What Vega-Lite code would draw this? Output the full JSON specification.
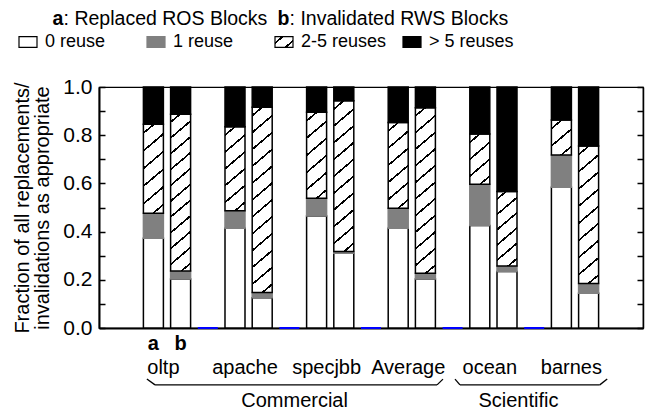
{
  "$schema": "https://vega.github.io/schema/vega-lite/v6.json",
  "width": 544,
  "height": 241,
  "autosize": {"type": "none"},
  "padding": {"left": 99, "top": 87, "right": 4, "bottom": 83},
  "config": {
    "font": "Liberation Sans",
    "view": {"stroke": "#000", "strokeWidth": 1.2},
    "axis": {"labelColor": "#000", "titleColor": "#000", "domainColor": "#000", "tickColor": "#000"},
    "text": {"color": "#000"}
  },
  "data": {"values": [
    {"bench": "oltp", "series": "a", "reuse": "0 reuse", "value": 0.372},
    {"bench": "oltp", "series": "a", "reuse": "1 reuse", "value": 0.104},
    {"bench": "oltp", "series": "a", "reuse": "2-5 reuses", "value": 0.369},
    {"bench": "oltp", "series": "a", "reuse": "> 5 reuses", "value": 0.155},
    {"bench": "oltp", "series": "b", "reuse": "0 reuse", "value": 0.203},
    {"bench": "oltp", "series": "b", "reuse": "1 reuse", "value": 0.033},
    {"bench": "oltp", "series": "b", "reuse": "2-5 reuses", "value": 0.651},
    {"bench": "oltp", "series": "b", "reuse": "> 5 reuses", "value": 0.113},
    {"bench": "apache", "series": "a", "reuse": "0 reuse", "value": 0.414},
    {"bench": "apache", "series": "a", "reuse": "1 reuse", "value": 0.073},
    {"bench": "apache", "series": "a", "reuse": "2-5 reuses", "value": 0.348},
    {"bench": "apache", "series": "a", "reuse": "> 5 reuses", "value": 0.165},
    {"bench": "apache", "series": "b", "reuse": "0 reuse", "value": 0.126},
    {"bench": "apache", "series": "b", "reuse": "1 reuse", "value": 0.021},
    {"bench": "apache", "series": "b", "reuse": "2-5 reuses", "value": 0.769},
    {"bench": "apache", "series": "b", "reuse": "> 5 reuses", "value": 0.084},
    {"bench": "specjbb", "series": "a", "reuse": "0 reuse", "value": 0.465},
    {"bench": "specjbb", "series": "a", "reuse": "1 reuse", "value": 0.073},
    {"bench": "specjbb", "series": "a", "reuse": "2-5 reuses", "value": 0.357},
    {"bench": "specjbb", "series": "a", "reuse": "> 5 reuses", "value": 0.105},
    {"bench": "specjbb", "series": "b", "reuse": "0 reuse", "value": 0.310},
    {"bench": "specjbb", "series": "b", "reuse": "1 reuse", "value": 0.007},
    {"bench": "specjbb", "series": "b", "reuse": "2-5 reuses", "value": 0.626},
    {"bench": "specjbb", "series": "b", "reuse": "> 5 reuses", "value": 0.057},
    {"bench": "Average", "series": "a", "reuse": "0 reuse", "value": 0.414},
    {"bench": "Average", "series": "a", "reuse": "1 reuse", "value": 0.083},
    {"bench": "Average", "series": "a", "reuse": "2-5 reuses", "value": 0.356},
    {"bench": "Average", "series": "a", "reuse": "> 5 reuses", "value": 0.147},
    {"bench": "Average", "series": "b", "reuse": "0 reuse", "value": 0.203},
    {"bench": "Average", "series": "b", "reuse": "1 reuse", "value": 0.024},
    {"bench": "Average", "series": "b", "reuse": "2-5 reuses", "value": 0.687},
    {"bench": "Average", "series": "b", "reuse": "> 5 reuses", "value": 0.086},
    {"bench": "ocean", "series": "a", "reuse": "0 reuse", "value": 0.425},
    {"bench": "ocean", "series": "a", "reuse": "1 reuse", "value": 0.171},
    {"bench": "ocean", "series": "a", "reuse": "2-5 reuses", "value": 0.209},
    {"bench": "ocean", "series": "a", "reuse": "> 5 reuses", "value": 0.195},
    {"bench": "ocean", "series": "b", "reuse": "0 reuse", "value": 0.234},
    {"bench": "ocean", "series": "b", "reuse": "1 reuse", "value": 0.023},
    {"bench": "ocean", "series": "b", "reuse": "2-5 reuses", "value": 0.309},
    {"bench": "ocean", "series": "b", "reuse": "> 5 reuses", "value": 0.434},
    {"bench": "barnes", "series": "a", "reuse": "0 reuse", "value": 0.584},
    {"bench": "barnes", "series": "a", "reuse": "1 reuse", "value": 0.134},
    {"bench": "barnes", "series": "a", "reuse": "2-5 reuses", "value": 0.145},
    {"bench": "barnes", "series": "a", "reuse": "> 5 reuses", "value": 0.137},
    {"bench": "barnes", "series": "b", "reuse": "0 reuse", "value": 0.144},
    {"bench": "barnes", "series": "b", "reuse": "1 reuse", "value": 0.041},
    {"bench": "barnes", "series": "b", "reuse": "2-5 reuses", "value": 0.570},
    {"bench": "barnes", "series": "b", "reuse": "> 5 reuses", "value": 0.245}
  ]},
  "layer": [
    {
      "mark": {"type": "bar", "strokeWidth": 1.5},
      "encoding": {
        "x": {"field": "bench", "type": "nominal", "sort": null,
          "scale": {"domain": ["oltp", "apache", "specjbb", "Average", "ocean", "barnes"], "paddingInner": 0, "paddingOuter": 0.3333, "align": 0.25},
          "axis": {"title": null, "labelAngle": 0, "ticks": false, "domainWidth": 2, "labelFontSize": 20, "labelPadding": 29, "labelOffset": 10, "labelOverlap": false, "zindex": 0}},
        "xOffset": {"field": "series", "type": "nominal", "scale": {"domain": ["g", "a", "b"], "paddingInner": 0.265, "paddingOuter": 0.1325}},
        "y": {"field": "value", "type": "quantitative", "stack": "zero",
          "scale": {"domain": [0, 1], "nice": false},
          "axis": {"title": ["Fraction of all replacements/", "invalidations as appropriate"], "titleFontSize": 20, "titleFontWeight": "normal", "titleLineHeight": 20, "titlePadding": 10,
            "values": [0, 0.1, 0.2, 0.3, 0.4, 0.5, 0.6, 0.7, 0.8, 0.9, 1],
            "labelExpr": "round(datum.value*10)%2===0 ? format(datum.value,'.1f') : ''",
            "tickSize": -6, "tickWidth": 1.5, "domainWidth": 2, "labelFontSize": 21, "labelPadding": 13, "grid": false, "zindex": 0}},
        "order": {"field": "reuse", "type": "nominal", "sort": "ascending"},
        "stroke": {"field": "reuse", "type": "nominal", "legend": null,
          "scale": {"domain": ["0 reuse", "1 reuse", "2-5 reuses", "> 5 reuses"], "range": ["#000000", "#808080", "#000000", "#000000"]}},
        "fill": {"field": "reuse", "type": "nominal",
          "scale": {"domain": ["0 reuse", "1 reuse", "2-5 reuses", "> 5 reuses"], "range": ["#ffffff", "#808080",
            {"expr": "{gradient: 'linear', x1: 0, y1: 0, x2: 1.13856, y2: 0.80369, stops: [{offset: 0, color: '#fff'}, {offset: 0.208, color: '#fff'}, {offset: 0.208, color: '#000'}, {offset: 0.292, color: '#000'}, {offset: 0.292, color: '#fff'}, {offset: 0.708, color: '#fff'}, {offset: 0.708, color: '#000'}, {offset: 0.792, color: '#000'}, {offset: 0.792, color: '#fff'}, {offset: 1, color: '#fff'}]}"},
            "#000000"]},
          "legend": {"title": null, "orient": "none", "legendX": -81, "legendY": -55, "direction": "horizontal",
            "symbolType": "M-1,-0.6H1V0.6H-1Z", "symbolSize": 324, "symbolStrokeWidth": 1.2, "symbolStrokeColor": "#000",
            "labelFontSize": 18, "labelOffset": 7, "columnPadding": 13, "gridAlign": "all"},
          "condition": [
            {"test": "datum.reuse==='2-5 reuses'&&datum.bench==='oltp'&&datum.series==='a'", "value": {"gradient": "linear", "x1": 0, "y1": 0, "x2": 0.21968, "y2": 1.14918, "stops": [
              {"offset": 0, "color": "#fff"},
              {"offset": 0.0729, "color": "#fff"}, {"offset": 0.0729, "color": "#000"}, {"offset": 0.0937, "color": "#000"}, {"offset": 0.0937, "color": "#fff"},
              {"offset": 0.2396, "color": "#fff"}, {"offset": 0.2396, "color": "#000"}, {"offset": 0.2604, "color": "#000"}, {"offset": 0.2604, "color": "#fff"},
              {"offset": 0.4063, "color": "#fff"}, {"offset": 0.4063, "color": "#000"}, {"offset": 0.4271, "color": "#000"}, {"offset": 0.4271, "color": "#fff"},
              {"offset": 0.5729, "color": "#fff"}, {"offset": 0.5729, "color": "#000"}, {"offset": 0.5937, "color": "#000"}, {"offset": 0.5937, "color": "#fff"},
              {"offset": 0.7396, "color": "#fff"}, {"offset": 0.7396, "color": "#000"}, {"offset": 0.7604, "color": "#000"}, {"offset": 0.7604, "color": "#fff"},
              {"offset": 0.9063, "color": "#fff"}, {"offset": 0.9063, "color": "#000"}, {"offset": 0.9271, "color": "#000"}, {"offset": 0.9271, "color": "#fff"},
              {"offset": 1, "color": "#fff"}]}},
            {"test": "datum.reuse==='2-5 reuses'&&datum.bench==='oltp'&&datum.series==='b'", "value": {"gradient": "linear", "x1": 0, "y1": 0, "x2": 0.1187, "y2": 1.0955, "stops": [
              {"offset": 0, "color": "#fff"},
              {"offset": 0.0392, "color": "#fff"}, {"offset": 0.0392, "color": "#000"}, {"offset": 0.0518, "color": "#000"}, {"offset": 0.0518, "color": "#fff"},
              {"offset": 0.1301, "color": "#fff"}, {"offset": 0.1301, "color": "#000"}, {"offset": 0.1427, "color": "#000"}, {"offset": 0.1427, "color": "#fff"},
              {"offset": 0.221, "color": "#fff"}, {"offset": 0.221, "color": "#000"}, {"offset": 0.2336, "color": "#000"}, {"offset": 0.2336, "color": "#fff"},
              {"offset": 0.3119, "color": "#fff"}, {"offset": 0.3119, "color": "#000"}, {"offset": 0.3245, "color": "#000"}, {"offset": 0.3245, "color": "#fff"},
              {"offset": 0.4028, "color": "#fff"}, {"offset": 0.4028, "color": "#000"}, {"offset": 0.4154, "color": "#000"}, {"offset": 0.4154, "color": "#fff"},
              {"offset": 0.4937, "color": "#fff"}, {"offset": 0.4937, "color": "#000"}, {"offset": 0.5063, "color": "#000"}, {"offset": 0.5063, "color": "#fff"},
              {"offset": 0.5846, "color": "#fff"}, {"offset": 0.5846, "color": "#000"}, {"offset": 0.5972, "color": "#000"}, {"offset": 0.5972, "color": "#fff"},
              {"offset": 0.6755, "color": "#fff"}, {"offset": 0.6755, "color": "#000"}, {"offset": 0.6881, "color": "#000"}, {"offset": 0.6881, "color": "#fff"},
              {"offset": 0.7664, "color": "#fff"}, {"offset": 0.7664, "color": "#000"}, {"offset": 0.779, "color": "#000"}, {"offset": 0.779, "color": "#fff"},
              {"offset": 0.8573, "color": "#fff"}, {"offset": 0.8573, "color": "#000"}, {"offset": 0.8699, "color": "#000"}, {"offset": 0.8699, "color": "#fff"},
              {"offset": 0.9482, "color": "#fff"}, {"offset": 0.9482, "color": "#000"}, {"offset": 0.9608, "color": "#000"}, {"offset": 0.9608, "color": "#fff"},
              {"offset": 1, "color": "#fff"}]}},
            {"test": "datum.reuse==='2-5 reuses'&&datum.bench==='apache'&&datum.series==='a'", "value": {"gradient": "linear", "x1": 0, "y1": 0, "x2": 0.23416, "y2": 1.15523, "stops": [
              {"offset": 0, "color": "#fff"},
              {"offset": 0.0724, "color": "#fff"}, {"offset": 0.0724, "color": "#000"}, {"offset": 0.0942, "color": "#000"}, {"offset": 0.0942, "color": "#fff"},
              {"offset": 0.2391, "color": "#fff"}, {"offset": 0.2391, "color": "#000"}, {"offset": 0.2609, "color": "#000"}, {"offset": 0.2609, "color": "#fff"},
              {"offset": 0.4058, "color": "#fff"}, {"offset": 0.4058, "color": "#000"}, {"offset": 0.4276, "color": "#000"}, {"offset": 0.4276, "color": "#fff"},
              {"offset": 0.5724, "color": "#fff"}, {"offset": 0.5724, "color": "#000"}, {"offset": 0.5942, "color": "#000"}, {"offset": 0.5942, "color": "#fff"},
              {"offset": 0.7391, "color": "#fff"}, {"offset": 0.7391, "color": "#000"}, {"offset": 0.7609, "color": "#000"}, {"offset": 0.7609, "color": "#fff"},
              {"offset": 0.9058, "color": "#fff"}, {"offset": 0.9058, "color": "#000"}, {"offset": 0.9276, "color": "#000"}, {"offset": 0.9276, "color": "#fff"},
              {"offset": 1, "color": "#fff"}]}},
            {"test": "datum.reuse==='2-5 reuses'&&datum.bench==='apache'&&datum.series==='b'", "value": {"gradient": "linear", "x1": 0, "y1": 0, "x2": 0.09931, "y2": 1.08263, "stops": [
              {"offset": 0, "color": "#fff"},
              {"offset": 0.0363, "color": "#fff"}, {"offset": 0.0363, "color": "#000"}, {"offset": 0.0471, "color": "#000"}, {"offset": 0.0471, "color": "#fff"},
              {"offset": 0.1196, "color": "#fff"}, {"offset": 0.1196, "color": "#000"}, {"offset": 0.1304, "color": "#000"}, {"offset": 0.1304, "color": "#fff"},
              {"offset": 0.2029, "color": "#fff"}, {"offset": 0.2029, "color": "#000"}, {"offset": 0.2137, "color": "#000"}, {"offset": 0.2137, "color": "#fff"},
              {"offset": 0.2863, "color": "#fff"}, {"offset": 0.2863, "color": "#000"}, {"offset": 0.2971, "color": "#000"}, {"offset": 0.2971, "color": "#fff"},
              {"offset": 0.3696, "color": "#fff"}, {"offset": 0.3696, "color": "#000"}, {"offset": 0.3804, "color": "#000"}, {"offset": 0.3804, "color": "#fff"},
              {"offset": 0.4529, "color": "#fff"}, {"offset": 0.4529, "color": "#000"}, {"offset": 0.4637, "color": "#000"}, {"offset": 0.4637, "color": "#fff"},
              {"offset": 0.5363, "color": "#fff"}, {"offset": 0.5363, "color": "#000"}, {"offset": 0.5471, "color": "#000"}, {"offset": 0.5471, "color": "#fff"},
              {"offset": 0.6196, "color": "#fff"}, {"offset": 0.6196, "color": "#000"}, {"offset": 0.6304, "color": "#000"}, {"offset": 0.6304, "color": "#fff"},
              {"offset": 0.7029, "color": "#fff"}, {"offset": 0.7029, "color": "#000"}, {"offset": 0.7137, "color": "#000"}, {"offset": 0.7137, "color": "#fff"},
              {"offset": 0.7863, "color": "#fff"}, {"offset": 0.7863, "color": "#000"}, {"offset": 0.7971, "color": "#000"}, {"offset": 0.7971, "color": "#fff"},
              {"offset": 0.8696, "color": "#fff"}, {"offset": 0.8696, "color": "#000"}, {"offset": 0.8804, "color": "#000"}, {"offset": 0.8804, "color": "#fff"},
              {"offset": 0.9529, "color": "#fff"}, {"offset": 0.9529, "color": "#000"}, {"offset": 0.9637, "color": "#000"}, {"offset": 0.9637, "color": "#fff"},
              {"offset": 1, "color": "#fff"}]}},
            {"test": "datum.reuse==='2-5 reuses'&&datum.bench==='specjbb'&&datum.series==='a'", "value": {"gradient": "linear", "x1": 0, "y1": 0, "x2": 0.22773, "y2": 1.15259, "stops": [
              {"offset": 0, "color": "#fff"},
              {"offset": 0.0726, "color": "#fff"}, {"offset": 0.0726, "color": "#000"}, {"offset": 0.094, "color": "#000"}, {"offset": 0.094, "color": "#fff"},
              {"offset": 0.2393, "color": "#fff"}, {"offset": 0.2393, "color": "#000"}, {"offset": 0.2607, "color": "#000"}, {"offset": 0.2607, "color": "#fff"},
              {"offset": 0.406, "color": "#fff"}, {"offset": 0.406, "color": "#000"}, {"offset": 0.4274, "color": "#000"}, {"offset": 0.4274, "color": "#fff"},
              {"offset": 0.5726, "color": "#fff"}, {"offset": 0.5726, "color": "#000"}, {"offset": 0.594, "color": "#000"}, {"offset": 0.594, "color": "#fff"},
              {"offset": 0.7393, "color": "#fff"}, {"offset": 0.7393, "color": "#000"}, {"offset": 0.7607, "color": "#000"}, {"offset": 0.7607, "color": "#fff"},
              {"offset": 0.906, "color": "#fff"}, {"offset": 0.906, "color": "#000"}, {"offset": 0.9274, "color": "#000"}, {"offset": 0.9274, "color": "#fff"},
              {"offset": 1, "color": "#fff"}]}},
            {"test": "datum.reuse==='2-5 reuses'&&datum.bench==='specjbb'&&datum.series==='b'", "value": {"gradient": "linear", "x1": 0, "y1": 0, "x2": 0.1238, "y2": 1.09873, "stops": [
              {"offset": 0, "color": "#fff"},
              {"offset": 0.0434, "color": "#fff"}, {"offset": 0.0434, "color": "#000"}, {"offset": 0.0566, "color": "#000"}, {"offset": 0.0566, "color": "#fff"},
              {"offset": 0.1434, "color": "#fff"}, {"offset": 0.1434, "color": "#000"}, {"offset": 0.1566, "color": "#000"}, {"offset": 0.1566, "color": "#fff"},
              {"offset": 0.2434, "color": "#fff"}, {"offset": 0.2434, "color": "#000"}, {"offset": 0.2566, "color": "#000"}, {"offset": 0.2566, "color": "#fff"},
              {"offset": 0.3434, "color": "#fff"}, {"offset": 0.3434, "color": "#000"}, {"offset": 0.3566, "color": "#000"}, {"offset": 0.3566, "color": "#fff"},
              {"offset": 0.4434, "color": "#fff"}, {"offset": 0.4434, "color": "#000"}, {"offset": 0.4566, "color": "#000"}, {"offset": 0.4566, "color": "#fff"},
              {"offset": 0.5434, "color": "#fff"}, {"offset": 0.5434, "color": "#000"}, {"offset": 0.5566, "color": "#000"}, {"offset": 0.5566, "color": "#fff"},
              {"offset": 0.6434, "color": "#fff"}, {"offset": 0.6434, "color": "#000"}, {"offset": 0.6566, "color": "#000"}, {"offset": 0.6566, "color": "#fff"},
              {"offset": 0.7434, "color": "#fff"}, {"offset": 0.7434, "color": "#000"}, {"offset": 0.7566, "color": "#000"}, {"offset": 0.7566, "color": "#fff"},
              {"offset": 0.8434, "color": "#fff"}, {"offset": 0.8434, "color": "#000"}, {"offset": 0.8566, "color": "#000"}, {"offset": 0.8566, "color": "#fff"},
              {"offset": 0.9434, "color": "#fff"}, {"offset": 0.9434, "color": "#000"}, {"offset": 0.9566, "color": "#000"}, {"offset": 0.9566, "color": "#fff"},
              {"offset": 1, "color": "#fff"}]}},
            {"test": "datum.reuse==='2-5 reuses'&&datum.bench==='Average'&&datum.series==='a'", "value": {"gradient": "linear", "x1": 0, "y1": 0, "x2": 0.22842, "y2": 1.15287, "stops": [
              {"offset": 0, "color": "#fff"},
              {"offset": 0.0726, "color": "#fff"}, {"offset": 0.0726, "color": "#000"}, {"offset": 0.094, "color": "#000"}, {"offset": 0.094, "color": "#fff"},
              {"offset": 0.2393, "color": "#fff"}, {"offset": 0.2393, "color": "#000"}, {"offset": 0.2607, "color": "#000"}, {"offset": 0.2607, "color": "#fff"},
              {"offset": 0.406, "color": "#fff"}, {"offset": 0.406, "color": "#000"}, {"offset": 0.4274, "color": "#000"}, {"offset": 0.4274, "color": "#fff"},
              {"offset": 0.5726, "color": "#fff"}, {"offset": 0.5726, "color": "#000"}, {"offset": 0.594, "color": "#000"}, {"offset": 0.594, "color": "#fff"},
              {"offset": 0.7393, "color": "#fff"}, {"offset": 0.7393, "color": "#000"}, {"offset": 0.7607, "color": "#000"}, {"offset": 0.7607, "color": "#fff"},
              {"offset": 0.906, "color": "#fff"}, {"offset": 0.906, "color": "#000"}, {"offset": 0.9274, "color": "#000"}, {"offset": 0.9274, "color": "#fff"},
              {"offset": 1, "color": "#fff"}]}},
            {"test": "datum.reuse==='2-5 reuses'&&datum.bench==='Average'&&datum.series==='b'", "value": {"gradient": "linear", "x1": 0, "y1": 0, "x2": 0.11204, "y2": 1.09118, "stops": [
              {"offset": 0, "color": "#fff"},
              {"offset": 0.0395, "color": "#fff"}, {"offset": 0.0395, "color": "#000"}, {"offset": 0.0515, "color": "#000"}, {"offset": 0.0515, "color": "#fff"},
              {"offset": 0.1304, "color": "#fff"}, {"offset": 0.1304, "color": "#000"}, {"offset": 0.1424, "color": "#000"}, {"offset": 0.1424, "color": "#fff"},
              {"offset": 0.2213, "color": "#fff"}, {"offset": 0.2213, "color": "#000"}, {"offset": 0.2333, "color": "#000"}, {"offset": 0.2333, "color": "#fff"},
              {"offset": 0.3122, "color": "#fff"}, {"offset": 0.3122, "color": "#000"}, {"offset": 0.3242, "color": "#000"}, {"offset": 0.3242, "color": "#fff"},
              {"offset": 0.4031, "color": "#fff"}, {"offset": 0.4031, "color": "#000"}, {"offset": 0.4151, "color": "#000"}, {"offset": 0.4151, "color": "#fff"},
              {"offset": 0.494, "color": "#fff"}, {"offset": 0.494, "color": "#000"}, {"offset": 0.506, "color": "#000"}, {"offset": 0.506, "color": "#fff"},
              {"offset": 0.5849, "color": "#fff"}, {"offset": 0.5849, "color": "#000"}, {"offset": 0.5969, "color": "#000"}, {"offset": 0.5969, "color": "#fff"},
              {"offset": 0.6758, "color": "#fff"}, {"offset": 0.6758, "color": "#000"}, {"offset": 0.6878, "color": "#000"}, {"offset": 0.6878, "color": "#fff"},
              {"offset": 0.7667, "color": "#fff"}, {"offset": 0.7667, "color": "#000"}, {"offset": 0.7787, "color": "#000"}, {"offset": 0.7787, "color": "#fff"},
              {"offset": 0.8576, "color": "#fff"}, {"offset": 0.8576, "color": "#000"}, {"offset": 0.8696, "color": "#000"}, {"offset": 0.8696, "color": "#fff"},
              {"offset": 0.9485, "color": "#fff"}, {"offset": 0.9485, "color": "#000"}, {"offset": 0.9605, "color": "#000"}, {"offset": 0.9605, "color": "#fff"},
              {"offset": 1, "color": "#fff"}]}},
            {"test": "datum.reuse==='2-5 reuses'&&datum.bench==='ocean'&&datum.series==='a'", "value": {"gradient": "linear", "x1": 0, "y1": 0, "x2": 0.40526, "y2": 1.20077, "stops": [
              {"offset": 0, "color": "#fff"},
              {"offset": 0.1087, "color": "#fff"}, {"offset": 0.1087, "color": "#000"}, {"offset": 0.1413, "color": "#000"}, {"offset": 0.1413, "color": "#fff"},
              {"offset": 0.3587, "color": "#fff"}, {"offset": 0.3587, "color": "#000"}, {"offset": 0.3913, "color": "#000"}, {"offset": 0.3913, "color": "#fff"},
              {"offset": 0.6087, "color": "#fff"}, {"offset": 0.6087, "color": "#000"}, {"offset": 0.6413, "color": "#000"}, {"offset": 0.6413, "color": "#fff"},
              {"offset": 0.8587, "color": "#fff"}, {"offset": 0.8587, "color": "#000"}, {"offset": 0.8913, "color": "#000"}, {"offset": 0.8913, "color": "#fff"},
              {"offset": 1, "color": "#fff"}]}},
            {"test": "datum.reuse==='2-5 reuses'&&datum.bench==='ocean'&&datum.series==='b'", "value": {"gradient": "linear", "x1": 0, "y1": 0, "x2": 0.26651, "y2": 1.16746, "stops": [
              {"offset": 0, "color": "#fff"},
              {"offset": 0.0713, "color": "#fff"}, {"offset": 0.0713, "color": "#000"}, {"offset": 0.0953, "color": "#000"}, {"offset": 0.0953, "color": "#fff"},
              {"offset": 0.238, "color": "#fff"}, {"offset": 0.238, "color": "#000"}, {"offset": 0.262, "color": "#000"}, {"offset": 0.262, "color": "#fff"},
              {"offset": 0.4047, "color": "#fff"}, {"offset": 0.4047, "color": "#000"}, {"offset": 0.4287, "color": "#000"}, {"offset": 0.4287, "color": "#fff"},
              {"offset": 0.5713, "color": "#fff"}, {"offset": 0.5713, "color": "#000"}, {"offset": 0.5953, "color": "#000"}, {"offset": 0.5953, "color": "#fff"},
              {"offset": 0.738, "color": "#fff"}, {"offset": 0.738, "color": "#000"}, {"offset": 0.762, "color": "#000"}, {"offset": 0.762, "color": "#fff"},
              {"offset": 0.9047, "color": "#fff"}, {"offset": 0.9047, "color": "#000"}, {"offset": 0.9287, "color": "#000"}, {"offset": 0.9287, "color": "#fff"},
              {"offset": 1, "color": "#fff"}]}},
            {"test": "datum.reuse==='2-5 reuses'&&datum.bench==='barnes'&&datum.series==='a'", "value": {"gradient": "linear", "x1": 0, "y1": 0, "x2": 0.58468, "y2": 1.20204, "stops": [
              {"offset": 0, "color": "#fff"},
              {"offset": 0.1455, "color": "#fff"}, {"offset": 0.1455, "color": "#000"}, {"offset": 0.1879, "color": "#000"}, {"offset": 0.1879, "color": "#fff"},
              {"offset": 0.4788, "color": "#fff"}, {"offset": 0.4788, "color": "#000"}, {"offset": 0.5212, "color": "#000"}, {"offset": 0.5212, "color": "#fff"},
              {"offset": 0.8121, "color": "#fff"}, {"offset": 0.8121, "color": "#000"}, {"offset": 0.8545, "color": "#000"}, {"offset": 0.8545, "color": "#fff"},
              {"offset": 1, "color": "#fff"}]}},
            {"test": "datum.reuse==='2-5 reuses'&&datum.bench==='barnes'&&datum.series==='b'", "value": {"gradient": "linear", "x1": 0, "y1": 0, "x2": 0.13697, "y2": 1.1068, "stops": [
              {"offset": 0, "color": "#fff"},
              {"offset": 0.0485, "color": "#fff"}, {"offset": 0.0485, "color": "#000"}, {"offset": 0.0627, "color": "#000"}, {"offset": 0.0627, "color": "#fff"},
              {"offset": 0.1596, "color": "#fff"}, {"offset": 0.1596, "color": "#000"}, {"offset": 0.1738, "color": "#000"}, {"offset": 0.1738, "color": "#fff"},
              {"offset": 0.2707, "color": "#fff"}, {"offset": 0.2707, "color": "#000"}, {"offset": 0.2849, "color": "#000"}, {"offset": 0.2849, "color": "#fff"},
              {"offset": 0.3818, "color": "#fff"}, {"offset": 0.3818, "color": "#000"}, {"offset": 0.396, "color": "#000"}, {"offset": 0.396, "color": "#fff"},
              {"offset": 0.4929, "color": "#fff"}, {"offset": 0.4929, "color": "#000"}, {"offset": 0.5071, "color": "#000"}, {"offset": 0.5071, "color": "#fff"},
              {"offset": 0.604, "color": "#fff"}, {"offset": 0.604, "color": "#000"}, {"offset": 0.6182, "color": "#000"}, {"offset": 0.6182, "color": "#fff"},
              {"offset": 0.7151, "color": "#fff"}, {"offset": 0.7151, "color": "#000"}, {"offset": 0.7293, "color": "#000"}, {"offset": 0.7293, "color": "#fff"},
              {"offset": 0.8262, "color": "#fff"}, {"offset": 0.8262, "color": "#000"}, {"offset": 0.8404, "color": "#000"}, {"offset": 0.8404, "color": "#fff"},
              {"offset": 0.9373, "color": "#fff"}, {"offset": 0.9373, "color": "#000"}, {"offset": 0.9515, "color": "#000"}, {"offset": 0.9515, "color": "#fff"},
              {"offset": 1, "color": "#fff"}]}}
          ]
        }
      }
    },
    {
      "data": {"values": [
        {"bench": "apache", "series": "g"},
        {"bench": "specjbb", "series": "g"},
        {"bench": "Average", "series": "g"},
        {"bench": "ocean", "series": "g"},
        {"bench": "barnes", "series": "g"}
      ]},
      "mark": {"type": "tick", "color": "#0000ff", "thickness": 2, "size": 20, "orient": "horizontal", "opacity": 1},
      "encoding": {
        "x": {"field": "bench", "type": "nominal", "sort": null,
          "axis": {"orient": "bottom", "title": null, "domain": false, "ticks": false, "labelAngle": 0, "labelFontSize": 20, "labelPadding": 78, "labelBaseline": "alphabetic", "labelOverlap": false,
            "labelExpr": "datum.value==='specjbb' ? 'Commercial' : datum.value==='barnes' ? 'Scientific' : ''",
            "labelOffset": {"condition": {"test": "datum.value==='barnes'", "value": -43}, "value": -22}}},
        "xOffset": {"field": "series", "type": "nominal"},
        "y": {"datum": 0, "type": "quantitative",
          "axis": {"orient": "right", "title": null, "labels": false, "values": [0, 0.1, 0.2, 0.3, 0.4, 0.5, 0.6, 0.7, 0.8, 0.9, 1], "tickSize": -6, "tickWidth": 1.5, "domainWidth": 1.5, "grid": false}}
      }
    },
    {
      "data": {"values": [{"bench": "oltp", "series": "a"}, {"bench": "oltp", "series": "b"}]},
      "mark": {"type": "text", "fontSize": 20, "fontWeight": "bold", "baseline": "alphabetic", "align": "center"},
      "encoding": {
        "x": {"field": "bench", "type": "nominal", "axis": null},
        "xOffset": {"field": "series", "type": "nominal"},
        "y": {"datum": -0.0913, "type": "quantitative", "axis": null},
        "text": {"field": "series", "type": "nominal"}
      }
    },
    {
      "data": {"values": [{}]},
      "mark": {"type": "rule", "color": "#000", "strokeWidth": 1.3},
      "encoding": {
        "x": {"datum": "oltp", "bandPosition": 0.42, "axis": null},
        "x2": {"datum": "oltp", "bandPosition": 0.52},
        "y": {"datum": -0.212, "type": "quantitative", "axis": null},
        "y2": {"datum": -0.236}
      }
    },
    {
      "data": {"values": [{}]},
      "mark": {"type": "rule", "color": "#000", "strokeWidth": 1.3},
      "encoding": {
        "x": {"datum": "oltp", "bandPosition": 0.52, "axis": null},
        "x2": {"datum": "Average", "bandPosition": 0.976},
        "y": {"datum": -0.236, "type": "quantitative", "axis": null}
      }
    },
    {
      "data": {"values": [{}]},
      "mark": {"type": "rule", "color": "#000", "strokeWidth": 1.3},
      "encoding": {
        "x": {"datum": "Average", "bandPosition": 0.976, "axis": null},
        "x2": {"datum": "ocean", "bandPosition": 0.049},
        "y": {"datum": -0.236, "type": "quantitative", "axis": null},
        "y2": {"datum": -0.212}
      }
    },
    {
      "data": {"values": [{}]},
      "mark": {"type": "rule", "color": "#000", "strokeWidth": 1.3},
      "encoding": {
        "x": {"datum": "ocean", "bandPosition": 0.196, "axis": null},
        "x2": {"datum": "ocean", "bandPosition": 0.257},
        "y": {"datum": -0.212, "type": "quantitative", "axis": null},
        "y2": {"datum": -0.236}
      }
    },
    {
      "data": {"values": [{}]},
      "mark": {"type": "rule", "color": "#000", "strokeWidth": 1.3},
      "encoding": {
        "x": {"datum": "ocean", "bandPosition": 0.257, "axis": null},
        "x2": {"datum": "barnes", "bandPosition": 0.97},
        "y": {"datum": -0.236, "type": "quantitative", "axis": null}
      }
    },
    {
      "data": {"values": [{}]},
      "mark": {"type": "rule", "color": "#000", "strokeWidth": 1.3, "x2Offset": 5},
      "encoding": {
        "x": {"datum": "barnes", "bandPosition": 0.97, "axis": null},
        "x2": {"datum": "barnes", "bandPosition": 1},
        "y": {"datum": -0.236, "type": "quantitative", "axis": null},
        "y2": {"datum": -0.212}
      }
    },
    {
      "data": {"values": [{}]},
      "mark": {"type": "text", "text": "a", "fontSize": 19.5, "fontWeight": "bold", "align": "left", "baseline": "alphabetic", "dx": -60},
      "encoding": {
        "x": {"datum": "oltp", "bandPosition": 0, "axis": null},
        "y": {"datum": 1.257, "type": "quantitative", "axis": null}
      }
    },
    {
      "data": {"values": [{}]},
      "mark": {"type": "text", "text": ": Replaced ROS Blocks", "fontSize": 19.5, "align": "left", "baseline": "alphabetic", "dx": -49},
      "encoding": {
        "x": {"datum": "oltp", "bandPosition": 0, "axis": null},
        "y": {"datum": 1.257, "type": "quantitative", "axis": null}
      }
    },
    {
      "data": {"values": [{}]},
      "mark": {"type": "text", "text": "b", "fontSize": 19.5, "fontWeight": "bold", "align": "left", "baseline": "alphabetic", "dx": 165},
      "encoding": {
        "x": {"datum": "oltp", "bandPosition": 0, "axis": null},
        "y": {"datum": 1.257, "type": "quantitative", "axis": null}
      }
    },
    {
      "data": {"values": [{}]},
      "mark": {"type": "text", "text": ": Invalidated RWS Blocks", "fontSize": 19.5, "align": "left", "baseline": "alphabetic", "dx": 177},
      "encoding": {
        "x": {"datum": "oltp", "bandPosition": 0, "axis": null},
        "y": {"datum": 1.257, "type": "quantitative", "axis": null}
      }
    }
  ],
  "resolve": {"axis": {"x": "independent", "y": "independent"}}
}
